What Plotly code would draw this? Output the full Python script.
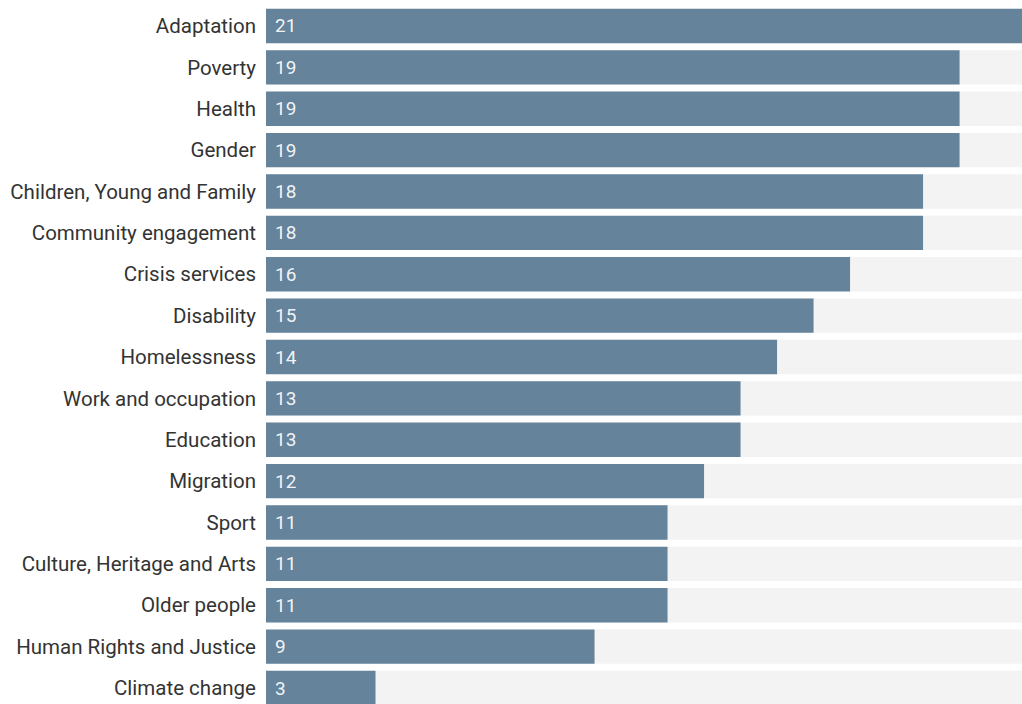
import plotly.graph_objects as go

categories = ["Adaptation", "Poverty", "Health", "Gender", "Children, Young and Family",
              "Community engagement", "Crisis services", "Disability", "Homelessness",
              "Work and occupation", "Education", "Migration", "Sport",
              "Culture, Heritage and Arts", "Older people", "Human Rights and Justice",
              "Climate change"]
values = [21, 19, 19, 19, 18, 18, 16, 15, 14, 13, 13, 12, 11, 11, 11, 9, 3]

BAR = "#65839b"
TRACK = "#f3f3f3"
track_vals = [max(values)] * len(values)

fig = go.Figure()
fig.add_trace(go.Bar(y=categories, x=track_vals, orientation="h", marker=dict(color=TRACK, line=dict(width=0)),
                     hoverinfo="skip", showlegend=False))
fig.add_trace(go.Bar(y=categories, x=values, orientation="h", marker=dict(color=BAR, line=dict(width=0)),
                     showlegend=False))

for c, v in zip(categories, values):
    fig.add_annotation(x=0, y=c, text=str(v), showarrow=False, xanchor="left", xshift=7,
                       font=dict(family="Roboto", size=19, color="rgba(255,255,255,0.93)"))

fig.update_layout(
    width=1022, height=704,
    margin=dict(l=266, r=0, t=0, b=0),
    barmode="overlay", bargap=0.17,
    plot_bgcolor="white", paper_bgcolor="white",
    xaxis=dict(range=[0, 20.71], showgrid=False, zeroline=False, showticklabels=False, fixedrange=True),
    yaxis=dict(range=[16.386, -0.628], showgrid=False, zeroline=False, ticks="",
               ticklabelstandoff=9, tickfont=dict(family="Roboto", size=20.5, color="#333333")),
)
fig.write_html("out.html", config={"displayModeBar": False},
               post_script="document.body.style.margin='0';document.body.style.overflow='hidden';")
